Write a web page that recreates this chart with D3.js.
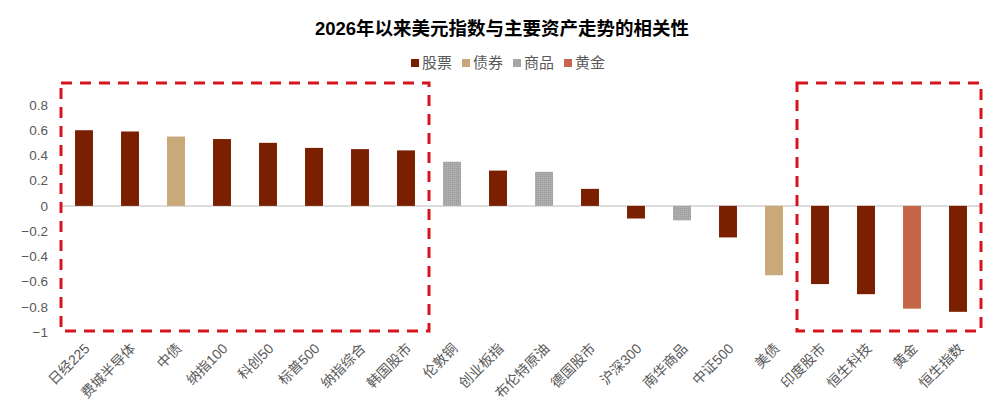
<!DOCTYPE html>
<html>
<head>
<meta charset="utf-8">
<style>
  body { margin: 0; background: #fff; }
  svg text { font-family: "Liberation Sans", Arial, "Noto Sans CJK SC", sans-serif; fill: #595959; }
  .title { font-weight: bold; fill: #000; }
</style>
<script src="https://d3js.org/d3.v7.min.js"></script>
</head>
<body>
<svg id="chart" width="1004" height="418"></svg>
<script>
// data
const names = ["日经225", "费城半导体", "中债", "纳指100", "科创50", "标普500", "纳指综合", "韩国股市",
  "伦敦铜", "创业板指", "布伦特原油", "德国股市", "沪深300", "南华商品", "中证500", "美债",
  "印度股市", "恒生科技", "黄金", "恒生指数"];
const values = [0.60, 0.59, 0.55, 0.53, 0.50, 0.46, 0.45, 0.44,
  0.35, 0.28, 0.27, 0.135, -0.10, -0.115, -0.25, -0.55,
  -0.62, -0.70, -0.815, -0.84];
const kinds = ["股票", "股票", "债券", "股票", "股票", "股票", "股票", "股票",
  "商品", "股票", "商品", "股票", "股票", "商品", "股票", "债券",
  "股票", "股票", "黄金", "股票"];
const legendKeys = ["股票", "债券", "商品", "黄金"];
const yTicks = [0.8, 0.6, 0.4, 0.2, 0, -0.2, -0.4, -0.6, -0.8, -1];
// highlighted groups (first and last category of each dashed box)
const boxes = [["日经225", "韩国股市"], ["印度股市", "恒生指数"]];

const svg = d3.select("svg#chart");
const margin = {top: 105, left: 61, right: 23, bottom: 86};
const width = 1004, height = 418;

const x = d3.scaleBand().domain(names).range([margin.left, width - margin.right]).paddingInner(0.61).paddingOuter(0.305);
const y = d3.scaleLinear().domain([-1, 0.8]).range([height - margin.bottom, margin.top]);
const color = d3.scaleOrdinal().domain(legendKeys).range(["#7a1f00", "#c9a97a", "#a6a6a6", "#c5664b"]);

// texture for the commodity bars
const defs = svg.append("defs");
const pat = defs.append("pattern").attr("id", "dots").attr("width", 2).attr("height", 2).attr("patternUnits", "userSpaceOnUse");
pat.append("rect").attr("width", 2).attr("height", 2).attr("fill", "#adadad");
pat.append("rect").attr("width", 1).attr("height", 1).attr("fill", "#999");

svg.append("text").attr("class", "title")
  .attr("x", 502).attr("y", 35)
  .attr("text-anchor", "middle")
  .style("font-size", "18.5px")
  .text("2026年以来美元指数与主要资产走势的相关性");

// legend
const legend = svg.append("g").attr("transform", "translate(411,63)");
legendKeys.forEach((k, i) => {
  const g = legend.append("g").attr("transform", "translate(" + (i * 51) + ",0)");
  g.append("rect").attr("x", 0).attr("y", -4).attr("width", 8).attr("height", 8).attr("fill", color(k));
  g.append("text").attr("x", 11).attr("y", 0).attr("dy", "0.35em").style("font-size", "15px").text(k);
});

// y labels
let leftAxis = d3.axisLeft(y).tickValues(yTicks).tickSize(0).tickPadding(0)
  .tickFormat(d => d3.format("~g")(d));
svg.append("g").attr("transform", "translate(48,0)")
  .call(leftAxis)
  .call(g => g.select(".domain").remove())
  .selectAll("text").style("font-size", "13.5px").attr("fill", "#595959");

// zero line
svg.append("line")
  .attr("x1", margin.left).attr("x2", width - margin.right)
  .attr("y1", y(0)).attr("y2", y(0))
  .attr("stroke", "#d0d0d0").attr("stroke-width", 1.5);

// bars
svg.append("g").selectAll("rect").data(names).join("rect")
  .attr("x", d => x(d))
  .attr("width", x.bandwidth())
  .attr("y", (d, i) => y(Math.max(0, values[i])))
  .attr("height", (d, i) => Math.abs(y(values[i]) - y(0)))
  .attr("fill", (d, i) => kinds[i] === "商品" ? "url(#dots)" : color(kinds[i]));

// x labels
svg.append("g").selectAll("text").data(names).join("text")
  .attr("transform", d => "translate(" + (x(d) + x.bandwidth() / 2 + 3) + ",346) rotate(-45)")
  .attr("text-anchor", "end")
  .attr("dy", "0.35em")
  .style("font-size", "14px")
  .text(d => d);

// dashed highlight boxes
const step = x.step();
boxes.forEach(b => {
  const x0 = x(b[0]) + x.bandwidth() / 2 - step / 2;
  const x1 = x(b[1]) + x.bandwidth() / 2 + step / 2;
  svg.append("rect")
    .attr("x", x0).attr("y", 83)
    .attr("width", x1 - x0).attr("height", y(-1) - 1 - 83)
    .attr("fill", "none")
    .attr("stroke", "#d7141b").attr("stroke-width", 3)
    .attr("stroke-dasharray", "11,8");
});
</script>
</body>
</html>
